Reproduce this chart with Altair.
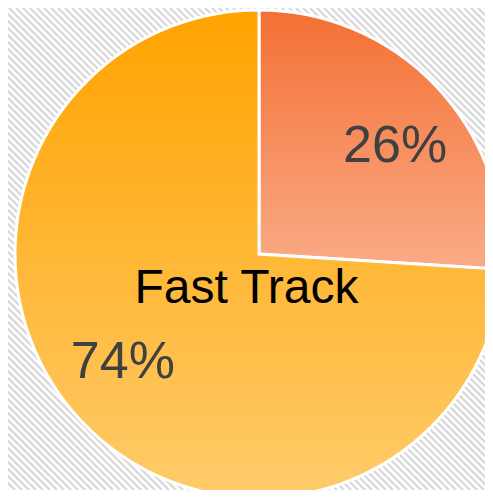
import altair as alt
import pandas as pd

# ---- data ----
categories = ["Other", "Fast Track"]
values = [26, 74]
pct_labels = ["26%", "74%"]
order = [0, 1]

# ---- style ----
top_colors = ["#F47034", "#FFA300"]
bottom_colors = ["#FAAB87", "#FFCB6A"]
W, H = 477, 482
CX, CY, R = 251, 246, 244

df = pd.DataFrame({"category": categories, "value": values,
                   "label": pct_labels, "order": order})

base = (
    alt.Chart(df)
    .transform_joinaggregate(total="sum(value)")
    .transform_calculate(frac="datum.value / datum.total")
    .transform_stack(stack="frac", groupby=[], as_=["start", "end"],
                     sort=[alt.SortField("order", order="ascending")])
)

theta_scale = alt.Scale(domain=[0, 1])

# background hatch
stripes = (
    alt.Chart(alt.sequence(-H, W + 10, 7, as_="t"))
    .transform_calculate(x1="datum.t", y1="0", x2=f"datum.t + {H}", y2=f"{H}")
    .mark_rule(stroke="#dadada", strokeWidth=2.4)
    .encode(
        x=alt.X("x1:Q", scale=None, axis=None),
        y=alt.Y("y1:Q", scale=None, axis=None),
        x2="x2:Q",
        y2="y2:Q",
    )
)


def slice_layer(i):
    grad = {
        "gradient": "linear",
        "stops": [
            {"offset": 0, "color": top_colors[i]},
            {"offset": 1, "color": bottom_colors[i]},
        ],
        "x1": 0, "x2": 0, "y1": 0, "y2": 1,
    }
    return (
        base.transform_filter(f"datum.category == '{categories[i]}'")
        .mark_arc(radius=R, stroke="white", strokeWidth=3, fill=grad)
        .encode(
            theta=alt.Theta("start:Q", scale=theta_scale),
            theta2="end:Q",
            x=alt.value(CX),
            y=alt.value(CY),
        )
    )


pct_text = (
    base.transform_calculate(mid="(datum.start + datum.end) / 2 + 0.0136")
    .mark_text(font="Liberation Sans", fontSize=52, color="#404040",
               baseline="middle", align="center")
    .encode(
        theta=alt.Theta("mid:Q", scale=theta_scale),
        radius=alt.value(173.5),
        text="label:N",
        x=alt.value(CX),
        y=alt.value(CY),
    )
)

name_text = (
    base.transform_filter("datum.category == 'Fast Track'")
    .mark_text(font="Liberation Sans", fontSize=48, color="#000000",
               baseline="alphabetic", align="center", dx=-12.5, dy=49)
    .encode(text="category:N", x=alt.value(CX), y=alt.value(CY))
)

chart = (
    alt.layer(stripes, slice_layer(0), slice_layer(1), pct_text, name_text)
    .properties(width=W, height=H, padding=0, autosize="none", background="white")
    .configure_view(stroke=None)
)

chart.save("out.html", embed_options={"renderer": "svg", "actions": False})
